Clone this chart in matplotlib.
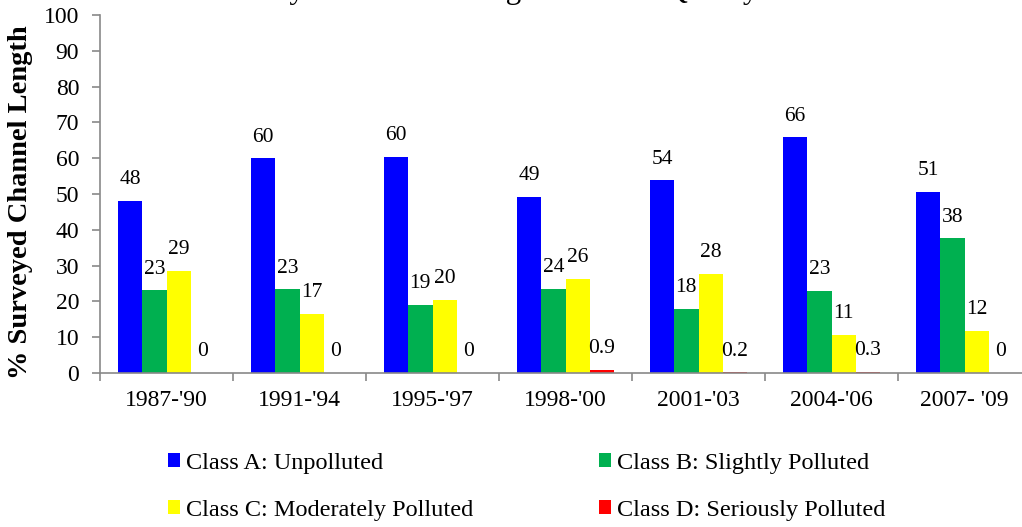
import matplotlib
matplotlib.use("Agg")
import matplotlib.pyplot as plt
import numpy as np
from matplotlib.patches import Patch

plt.rcParams['font.family'] = ['Liberation Serif', 'DejaVu Serif']

periods = ["1987-'90", "1991-'94", "1995-'97", "1998-'00", "2001-'03", "2004-'06", "2007- '09"]
class_a = [48.0, 60.0, 60.3, 49.2, 53.8, 65.8, 50.6]
class_b = [23.1, 23.4, 19.0, 23.6, 18.0, 22.9, 37.6]
class_c = [28.6, 16.6, 20.4, 26.3, 27.7, 10.7, 11.8]
class_d = [0.0, 0.0, 0.0, 0.9, 0.2, 0.3, 0.0]
series_names = ["Class A: Unpolluted", "Class B: Slightly Polluted",
                "Class C: Moderately Polluted", "Class D: Seriously Polluted"]
colors = ["#0000FF", "#00B050", "#FFFF00", "#FF0000"]
yticks = list(range(0, 101, 10))
title = "Summary of Channel Length in Water Quality Classes"

def fmt(v):
    if 0 < v < 1:
        return f"{v:.1f}"
    return f"{int(round(v))}"

fig = plt.figure(figsize=(10.22, 5.27), dpi=100)
ax = fig.add_axes([100/1022, 154/527, 931/1022, 358/527])

x = np.arange(len(periods))
w = 0.183
data = [class_a, class_b, class_c, class_d]
for i, (vals, col) in enumerate(zip(data, colors)):
    xs = x + (i - 1.5) * w
    ax.bar(xs, vals, width=w, color=col, edgecolor='none', zorder=2)
    for xi, v in zip(xs, vals):
        ax.annotate(fmt(v), (xi, v), xytext=(0, 12), textcoords='offset points',
                    ha='center', va='baseline', fontsize=15.5, color='black')

ax.set_xlim(-0.5, len(periods) - 0.5)
ax.set_ylim(0, 100)
ax.set_yticks(yticks)
ax.set_xticks(x)
ax.set_xticklabels(periods, fontsize=17)
ax.set_xticks(np.arange(len(periods) + 1) - 0.5, minor=True)
ax.tick_params(axis='x', which='major', length=0, pad=12)
ax.tick_params(axis='x', which='minor', length=6, width=1.2, color='#898989', direction='out')
ax.tick_params(axis='y', length=6, width=1.2, color='#898989', pad=9, labelsize=17)
for s in ['top', 'right']:
    ax.spines[s].set_visible(False)
for s in ['left', 'bottom']:
    ax.spines[s].set_color('#898989')
    ax.spines[s].set_linewidth(1.2)
ax.set_ylabel("% Surveyed Channel Length", fontsize=20.5, fontweight='bold')
ax.yaxis.set_label_coords((33 - 100) / 931, (373 - 202.5) / 358)

handles = [Patch(facecolor=c, edgecolor='none') for c in colors]
order = [0, 2, 1, 3]
leg = fig.legend([handles[i] for i in order], [series_names[i] for i in order],
                 loc='upper left', bbox_to_anchor=(146/1022, 1 - 431/527), ncol=2,
                 frameon=False, fontsize=17.5, handlelength=0.5, handleheight=0.5,
                 handletextpad=0.25, columnspacing=5.15, labelspacing=1.07)

fig.text(522/1022, 1 + 2/527, title, fontsize=22.3, ha='center', va='baseline')

fig.savefig("out.png", dpi=100)
